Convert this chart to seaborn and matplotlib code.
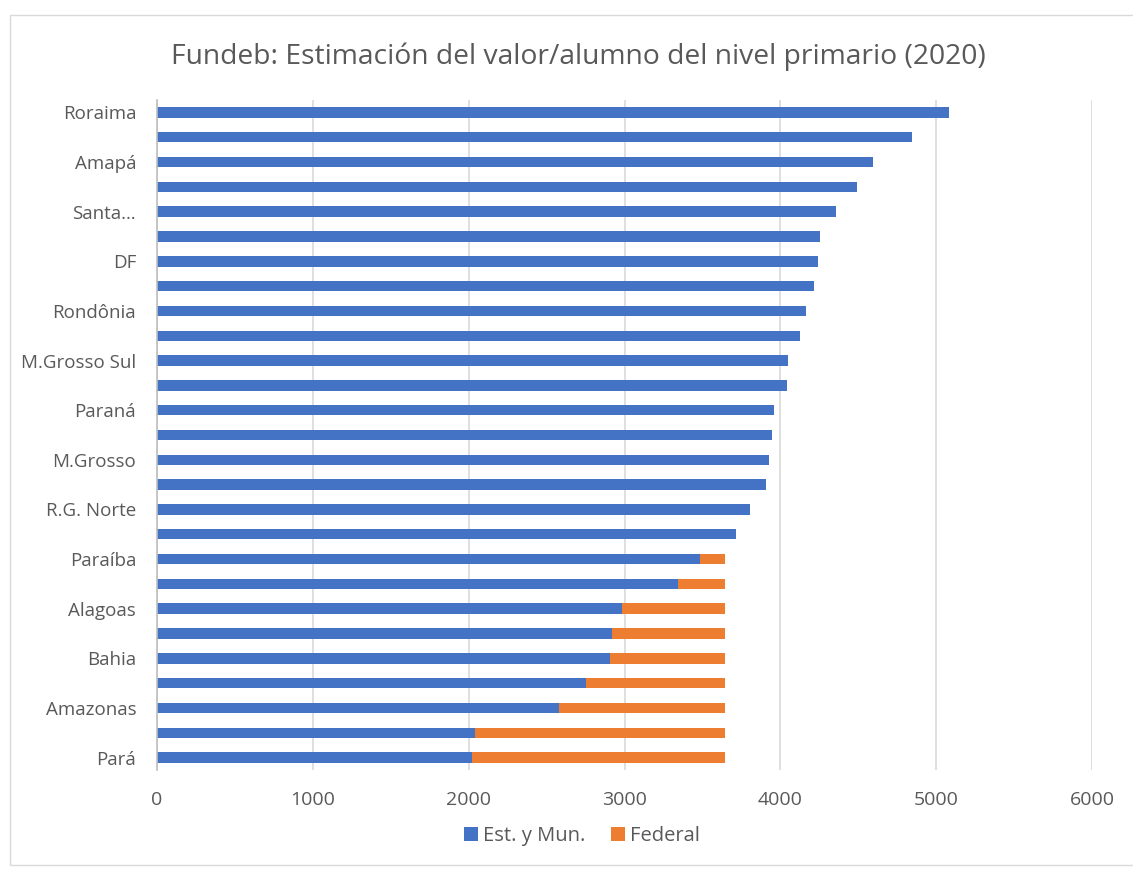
import matplotlib
matplotlib.use("Agg")
import matplotlib.pyplot as plt
import seaborn as sns
import pandas as pd
from matplotlib.patches import Rectangle


"""DATA"""
# 27 states, top to bottom; Excel only shows every other label
labels = ["Roraima", "", "Amapá", "", "Santa…", "", "DF", "", "Rondônia", "",
          "M.Grosso Sul", "", "Paraná", "", "M.Grosso", "", "R.G. Norte", "",
          "Paraíba", "", "Alagoas", "", "Bahia", "", "Amazonas", "", "Pará"]
est_mun = [5083, 4842, 4594, 4491, 4356, 4254, 4241, 4218, 4167, 4126,
           4047, 4040, 3957, 3946, 3928, 3906, 3805, 3714,
           3485, 3343, 2983, 2918, 2907, 2755, 2579, 2043, 2021]
federal = [0, 0, 0, 0, 0, 0, 0, 0, 0, 0,
           0, 0, 0, 0, 0, 0, 0, 0,
           160, 302, 662, 727, 738, 890, 1066, 1602, 1624]
series = ["Est. y Mun.", "Federal"]
title = "Fundeb: Estimación del valor/alumno del nivel primario (2020)"

BLUE = "#4472C4"
ORANGE = "#ED7D31"
GREY = "#595959"

df = pd.DataFrame({
    "cat": ["s%02d" % i for i in range(len(labels))],
    "est": est_mun,
    "fed": federal,
})
df["total"] = df["est"] + df["fed"]


"""PLOTTING"""
sns.set_theme(style="white")
plt.rcParams["font.family"] = ["Open Sans", "DejaVu Sans"]

fig = plt.figure(figsize=(11.33, 8.69), dpi=100)
ax = fig.add_axes([157 / 1133, 1 - 770 / 869, (1092 - 157) / 1133, 670 / 869])

sns.barplot(data=df, x="total", y="cat", orient="h", color=ORANGE,
            width=0.42, saturation=1, linewidth=0, ax=ax, label=series[1])
sns.barplot(data=df, x="est", y="cat", orient="h", color=BLUE,
            width=0.42, saturation=1, linewidth=0, ax=ax, label=series[0])

ax.set_xlim(0, 6000)
ax.set_ylim(len(labels) - 0.5, -0.5)
ax.set_xticks(range(0, 6001, 1000))
ax.set_yticks(range(len(labels)))
ax.set_yticklabels(labels)
ax.set_xlabel("")
ax.set_ylabel("")
ax.tick_params(axis="both", length=0, labelsize=13.5, labelcolor=GREY)
ax.tick_params(axis="x", pad=15, labelsize=14)
ax.tick_params(axis="y", pad=15)

ax.set_axisbelow(True)
ax.grid(axis="x", color="#d9d9d9", linewidth=1.2)
for s in ["top", "right", "bottom"]:
    ax.spines[s].set_visible(False)
ax.spines["left"].set_color("#bfbfbf")
ax.spines["left"].set_linewidth(1.2)

fig.text(578 / 1133, 1 - 57 / 869, title, ha="center", va="center",
         fontsize=20.3, color=GREY)

handles, _ = ax.get_legend_handles_labels()
ax.legend(handles[::-1], series, loc="center", bbox_to_anchor=(582 / 1133, 1 - 836 / 869),
          bbox_transform=fig.transFigure, ncol=2, frameon=False, fontsize=14.5,
          handlelength=0.7, handleheight=0.7, handletextpad=0.25,
          columnspacing=1.3, labelcolor=GREY)

# chart area border
fig.patches.append(Rectangle((10 / 1133, 4 / 869), 1125 / 1133, 850 / 869,
                             transform=fig.transFigure, fill=False,
                             edgecolor="#d9d9d9", linewidth=1))

fig.savefig("out.png", dpi=100)
